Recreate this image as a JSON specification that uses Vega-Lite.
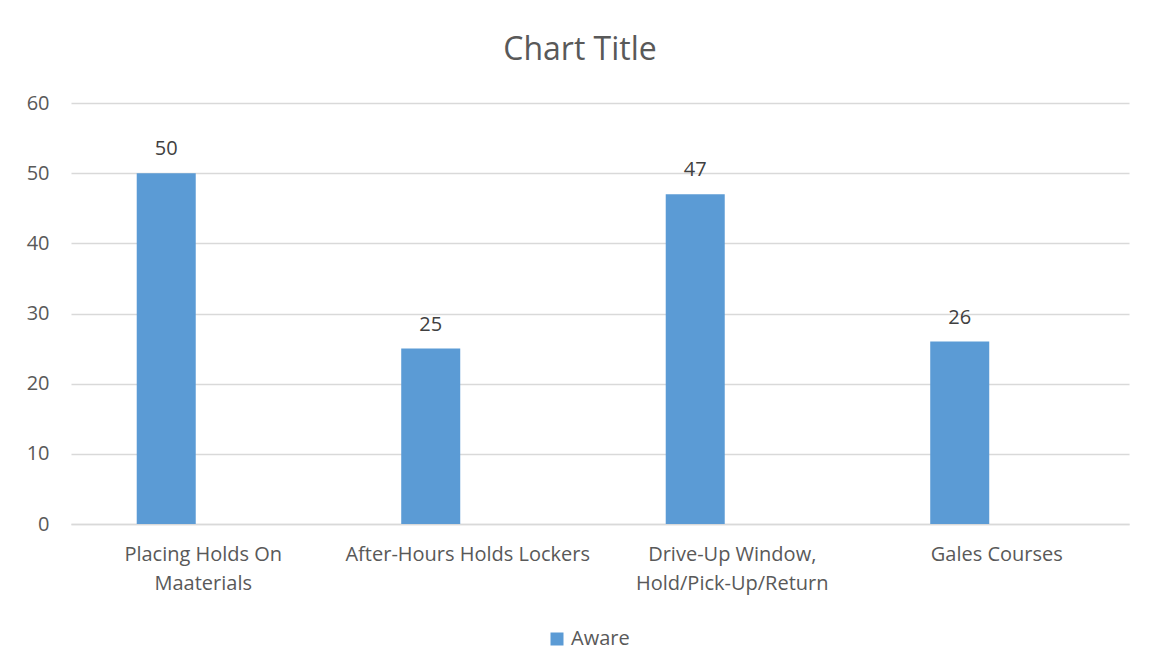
{
  "$schema": "https://vega.github.io/schema/vega-lite/v6.json",
  "width": 1058,
  "height": 421,
  "autosize": {"type": "none"},
  "padding": {"left": 71, "top": 103, "right": 28, "bottom": 148},
  "background": "white",
  "title": {
    "text": "Chart Title",
    "font": "Open Sans",
    "fontSize": 32,
    "fontWeight": "normal",
    "color": "#595959",
    "baseline": "alphabetic",
    "offset": 1,
    "dx": -20
  },
  "config": {
    "view": {"stroke": null},
    "font": "Open Sans"
  },
  "data": {
    "values": [
      {"category": "Placing Holds On|Maaterials", "series": "Aware", "value": 50},
      {"category": "After-Hours Holds Lockers", "series": "Aware", "value": 25},
      {"category": "Drive-Up Window,|Hold/Pick-Up/Return", "series": "Aware", "value": 47},
      {"category": "Gales Courses", "series": "Aware", "value": 26}
    ]
  },
  "encoding": {
    "x": {
      "field": "category",
      "type": "nominal",
      "sort": null,
      "scale": {"paddingInner": 0.497, "paddingOuter": 0.2485},
      "axis": {
        "title": null,
        "labelAngle": 0,
        "labelExpr": "split(datum.label, '|')",
        "labelFontSize": 20,
        "labelColor": "#595959",
        "labelLineHeight": 29,
        "labelPadding": 20,
        "labelLimit": 0,
        "ticks": false,
        "domainColor": "#d9d9d9",
        "domainWidth": 1.5,
        "grid": false
      }
    },
    "xOffset": {
      "field": "series",
      "type": "nominal",
      "scale": {"domain": ["Aware", "Not Aware"], "paddingInner": 0.203, "paddingOuter": 0}
    },
    "y": {
      "field": "value",
      "type": "quantitative",
      "scale": {"domain": [0, 60]},
      "axis": {
        "title": null,
        "values": [0, 10, 20, 30, 40, 50, 60],
        "labelFontSize": 20,
        "labelColor": "#595959",
        "labelPadding": 22,
        "ticks": false,
        "domain": false,
        "gridColor": "#d9d9d9",
        "gridWidth": 1.3
      }
    }
  },
  "layer": [
    {
      "mark": {"type": "bar", "color": "#5B9BD5"},
      "encoding": {
        "color": {
          "field": "series",
          "type": "nominal",
          "scale": {"range": ["#5B9BD5"]},
          "legend": {
            "title": null,
            "orient": "none",
            "legendX": 476,
            "legendY": 526,
            "symbolType": "square",
            "symbolSize": 169,
            "symbolStrokeWidth": 0,
            "labelFontSize": 20,
            "labelColor": "#595959",
            "labelOffset": 4
          }
        }
      }
    },
    {
      "mark": {"type": "text", "dy": -18, "baseline": "alphabetic", "fontSize": 20, "color": "#404040"},
      "encoding": {"text": {"field": "value", "type": "quantitative"}}
    }
  ]
}
